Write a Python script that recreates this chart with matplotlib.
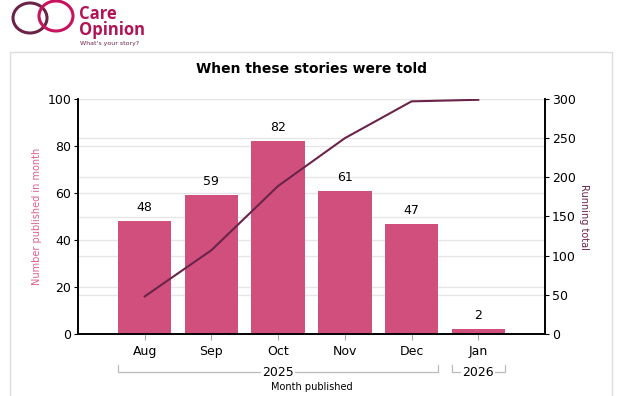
import matplotlib.pyplot as plt
from matplotlib.patches import Rectangle, Ellipse

months = ["Aug", "Sep", "Oct", "Nov", "Dec", "Jan"]
counts = [48, 59, 82, 61, 47, 2]
running = [48, 107, 189, 250, 297, 299]
years = [("2025", 0, 4), ("2026", 5, 5)]

bar_col = "#d14f7c"
line_col = "#6b2449"
grid_col = "#e6e6e6"

fig = plt.figure(figsize=(6.2, 3.96), dpi=100)

# outer panel frame
fig.patches.append(Rectangle((10 / 620, -0.05), 602 / 620, 1 - 52 / 396 + 0.05,
                             transform=fig.transFigure, fill=False,
                             edgecolor="#dddddd", linewidth=1))

# logo
fig.patches.append(Ellipse((30 / 620, 1 - 18 / 396), 34 / 620, 30 / 396,
                           transform=fig.transFigure, fill=False,
                           edgecolor=line_col, linewidth=2.2))
fig.patches.append(Ellipse((56 / 620, 1 - 16 / 396), 34 / 620, 30 / 396,
                           transform=fig.transFigure, fill=False,
                           edgecolor="#c8135f", linewidth=2.2))
fig.text(79 / 620, 1 - 22 / 396, "Care\nOpinion", color="#b01457",
         fontsize=12, fontweight="bold", linespacing=0.8, va="center",
         family="Open Sans")
fig.text(80 / 620, 1 - 43 / 396, "What's your story?", color=line_col,
         fontsize=4.5, va="center")

ax = fig.add_axes([78 / 620, 1 - 334 / 396, 467 / 620, 235 / 396])
ax2 = ax.twinx()

x = list(range(len(months)))
ax.bar(x, counts, width=0.8, color=bar_col, zorder=2)
for xi, v in zip(x, counts):
    ax.text(xi, v + 3, str(v), ha="center", va="bottom", fontsize=9, zorder=4)

ax2.plot(x, running, color=line_col, linewidth=1.5, zorder=3)

ax.set_xlim(-1, 6)
ax.set_ylim(0, 100)
ax2.set_ylim(0, 300)
ax.set_yticks(range(0, 101, 20))
ax2.set_yticks(range(0, 301, 50))
ax.set_xticks(x)
ax.set_xticklabels(months, fontsize=9)

# grid lines of both scales, kept behind the bars
ax.grid(axis="y", color=grid_col, linewidth=1, zorder=0)
for v in ax2.get_yticks():
    ax.axhline(v * 100 / 300, color=grid_col, linewidth=1, zorder=0)
ax.set_axisbelow(True)
ax2.patch.set_visible(False)

for a in (ax, ax2):
    a.spines["top"].set_visible(False)
    a.tick_params(labelsize=9, length=3, width=0.8, pad=2)
    a.spines["left"].set_linewidth(1.2)
    a.spines["right"].set_linewidth(1.2)
    a.spines["bottom"].set_linewidth(1.2)
ax.tick_params(axis="x", length=4, pad=4, color="#aaaaaa")

ax.set_ylabel("Number published in month", color="#e0608f", fontsize=7, labelpad=0)
ax.yaxis.set_label_coords(-0.077, 0.5)
ax2.set_ylabel("Running total", color=line_col, fontsize=7, rotation=270, labelpad=0)
ax2.yaxis.set_label_coords(1.095, 0.5)

ax.set_title("When these stories were told", fontsize=10, fontweight="bold", pad=19)

# year brackets under the month labels
br_y = -0.163
tr = ax.get_xaxis_transform()
for label, a0, a1 in years:
    xs0 = a0 - 0.4
    xs1 = a1 + 0.4
    mid = (a0 + a1) / 2
    ax.plot([xs0, xs0, xs1, xs1], [br_y + 0.03, br_y, br_y, br_y + 0.03],
            color="#bbbbbb", linewidth=0.9, transform=tr, clip_on=False)
    ax.text(mid, br_y, label, ha="center", va="center", fontsize=9,
            transform=tr, bbox=dict(facecolor="white", edgecolor="none", pad=1))
ax.text(2.5, -0.226, "Month published", ha="center", va="center", fontsize=7,
        transform=tr)

fig.savefig("out.png", dpi=100)
